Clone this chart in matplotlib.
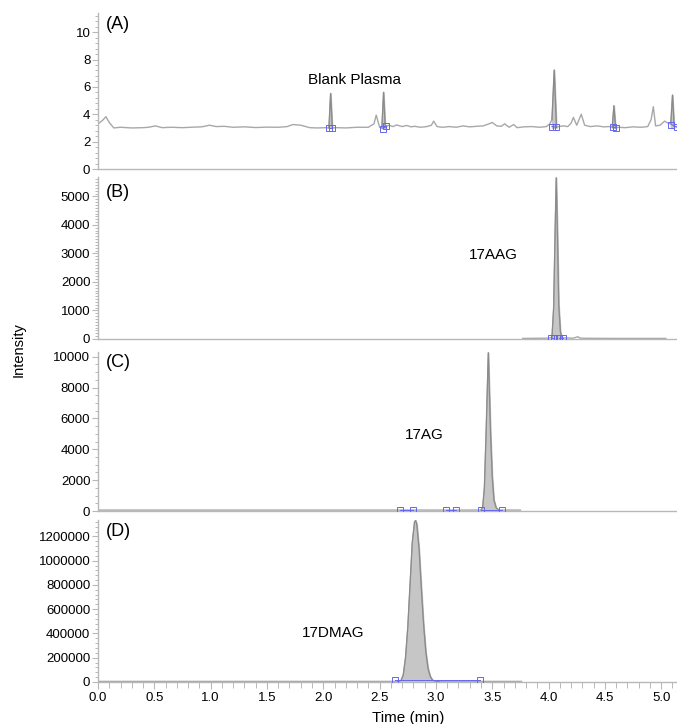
import matplotlib
matplotlib.use("Agg")
import matplotlib.pyplot as plt
from matplotlib.ticker import MultipleLocator, FixedLocator, FuncFormatter

plt.rcParams['font.family'] = ['Liberation Sans', 'DejaVu Sans']

# ---------------- data ----------------
# Panel A : blank plasma trace
a_time = [0.00, 0.04, 0.07, 0.10, 0.14, 0.20, 0.30, 0.40, 0.45, 0.51, 0.57, 0.65, 0.75, 0.85,
          0.92, 0.99, 1.05, 1.12, 1.20, 1.30, 1.40, 1.50, 1.60, 1.68, 1.73, 1.80, 1.88, 1.95,
          2.02, 2.050, 2.065, 2.080, 2.12, 2.20, 2.30, 2.40, 2.45, 2.47, 2.50, 2.52, 2.535,
          2.55, 2.58, 2.62, 2.65, 2.70, 2.74, 2.78, 2.81, 2.86, 2.92, 2.96, 2.98, 3.01, 3.06,
          3.12, 3.18, 3.24, 3.30, 3.36, 3.42, 3.47, 3.50, 3.54, 3.58, 3.61, 3.65, 3.69, 3.72,
          3.78, 3.85, 3.92, 3.98, 4.01, 4.03, 4.050, 4.07, 4.09, 4.13, 4.17, 4.20, 4.22, 4.25,
          4.27, 4.29, 4.32, 4.37, 4.43, 4.49, 4.54, 4.565, 4.580, 4.595, 4.62, 4.68, 4.75,
          4.82, 4.88, 4.91, 4.93, 4.95, 4.99, 5.03, 5.06, 5.085, 5.100, 5.115, 5.14]
a_int = [3.30, 3.55, 3.82, 3.40, 3.00, 3.05, 3.00, 3.02, 3.05, 3.15, 3.02, 3.05, 3.02, 3.06,
         3.08, 3.20, 3.10, 3.12, 3.05, 3.08, 3.03, 3.06, 3.05, 3.10, 3.25, 3.20, 3.02, 3.00,
         3.02, 3.00, 5.52, 3.00, 3.02, 3.00, 3.05, 3.05, 3.30, 3.94, 3.05, 3.00, 5.60,
         3.05, 3.20, 3.10, 3.22, 3.10, 3.18, 3.08, 3.12, 3.05, 3.10, 3.20, 3.50, 3.10, 3.05,
         3.10, 3.05, 3.15, 3.08, 3.12, 3.15, 3.30, 3.40, 3.15, 3.12, 3.30, 3.05, 3.25, 3.02,
         3.08, 3.10, 3.05, 3.10, 3.30, 3.60, 7.23, 3.05, 3.10, 3.15, 3.10, 3.35, 3.77, 3.20,
         3.60, 4.00, 3.20, 3.10, 3.15, 3.08, 3.10, 3.05, 4.62, 3.00, 3.05, 3.02, 3.08,
         3.05, 3.10, 3.60, 4.55, 3.15, 3.20, 3.50, 3.35, 3.30, 5.40, 3.10, 3.10]
a_fill_windows = [(2.050, 2.080), (2.52, 2.55), (4.03, 4.07), (4.565, 4.595), (5.085, 5.115)]
a_marks_t = [2.05, 2.08, 2.53, 2.56, 4.03, 4.07, 4.57, 4.60, 5.09, 5.14]
a_marks_y = [3.00, 3.00, 2.95, 3.15, 3.10, 3.05, 3.05, 3.00, 3.25, 3.05]

# Panel B : 17AAG
b_time = [3.77, 3.90, 4.00, 4.03, 4.045, 4.058, 4.068, 4.078, 4.09, 4.105, 4.12, 4.22, 4.26,
          4.28, 4.32, 4.60, 4.90, 5.04]
b_int = [20, 25, 30, 60, 1100, 3800, 5650, 3800, 1200, 250, 40, 30, 80, 30, 25, 20, 20, 20]
b_fill_window = (4.03, 4.12)
b_marks_t = [4.02, 4.05, 4.09, 4.13]
b_marks_y = [40, 40, 40, 40]

# Panel C : 17AG
c_time = [0.00, 1.00, 2.00, 3.00, 3.40, 3.415, 3.43, 3.445, 3.465, 3.485, 3.50, 3.515,
          3.535, 3.56, 3.65, 3.75]
c_int = [60, 60, 60, 60, 60, 250, 1500, 5000, 10250, 5000, 2200, 700, 200, 60, 60, 60]
c_fill_window = (3.40, 3.56)
c_marks_t = [2.68, 2.80, 3.09, 3.18, 3.40, 3.59]
c_marks_y = [80, 80, 80, 80, 80, 80]

# Panel D : 17DMAG
d_time = [0.00, 1.00, 2.00, 2.66, 2.69, 2.71, 2.73, 2.75, 2.77, 2.79, 2.81, 2.82, 2.83, 2.85,
          2.87, 2.89, 2.91, 2.93, 2.95, 2.97, 3.00, 3.03, 3.40, 3.76]
d_int = [5000, 5000, 5000, 5000, 12000, 60000, 200000, 450000, 800000, 1150000, 1320000,
         1330000, 1300000, 1100000, 780000, 480000, 250000, 110000, 45000, 15000, 6000,
         5000, 5000, 5000]
d_fill_window = (2.66, 3.03)
d_marks_t = [2.64, 3.39]
d_marks_y = [15000, 15000]

panel_letters = ['(A)', '(B)', '(C)', '(D)']
compound_names = ['Blank Plasma', '17AAG', '17AG', '17DMAG']
name_pos_t = [2.28, 3.51, 2.90, 2.09]
name_pos_y = [6.5, 2940, 4950, 400000]
y_limits = [11.4, 5680, 10300, 1335000]
y_major = [2, 1000, 2000, 200000]
y_minor = [0.4, 100, 500, 40000]
x_ticks = [0.0, 0.5, 1.0, 1.5, 2.0, 2.5, 3.0, 3.5, 4.0, 4.5, 5.0]

# ---------------- figure ----------------
W, H = 677, 724
fig = plt.figure(figsize=(W / 100, H / 100), dpi=100)

# axes boxes in pixels: (bottom, top)
boxes = [(169, 13), (339, 177), (511, 352), (682, 520)]
left_px, right_px = 98, 677

line_c = '#a8a8a8'
fill_c = '#c6c6c6'
edge_c = '#8a8a8a'
mark_c = '#6666ee'
spine_c = '#b8b8b8'

traces = [(a_time, a_int), (b_time, b_int), (c_time, c_int), (d_time, d_int)]
marks = [(a_marks_t, a_marks_y), (b_marks_t, b_marks_y), (c_marks_t, c_marks_y),
         (d_marks_t, d_marks_y)]
fills = [a_fill_windows, [b_fill_window], [c_fill_window], [d_fill_window]]

int_fmt = FuncFormatter(lambda v, p: f'{v:g}' if abs(v) < 100 else f'{int(round(v))}')

axes = []
for i, (bot, top) in enumerate(boxes):
    ax = fig.add_axes([left_px / W, 1 - bot / H, (right_px - left_px) / W, (bot - top) / H])
    axes.append(ax)
    t, y = traces[i]
    ax.plot(t, y, color=line_c, lw=1.0, zorder=2)
    base = y[0] if i > 0 else 3.0
    for (t0, t1) in fills[i]:
        tt = [tv for tv in t if t0 <= tv <= t1]
        yy = [yv for tv, yv in zip(t, y) if t0 <= tv <= t1]
        ax.fill_between(tt, base, yy, color=fill_c, zorder=1)
        ax.plot(tt, yy, color=edge_c, lw=0.8, zorder=3)
    mt, my = marks[i]
    # integration baselines between mark pairs
    for k in range(0, len(mt) - 1, 2):
        ax.plot([mt[k], mt[k + 1]], [my[k], my[k + 1]], color=mark_c, lw=0.7, zorder=4)
    ax.plot(mt, my, ls='none', marker='s', ms=4.5, mfc='none', mec=mark_c, mew=0.7, zorder=5)

    ax.set_xlim(0, 5.14)
    ax.set_ylim(0, y_limits[i])
    ax.yaxis.set_major_locator(MultipleLocator(y_major[i]))
    ax.yaxis.set_minor_locator(MultipleLocator(y_minor[i]))
    ax.yaxis.set_major_formatter(int_fmt)
    for s in ['top', 'right']:
        ax.spines[s].set_visible(False)
    ax.spines['left'].set_color(spine_c)
    ax.spines['bottom'].set_color(spine_c)
    ax.spines['left'].set_linewidth(1.0)
    ax.spines['bottom'].set_linewidth(1.0)
    ax.tick_params(axis='y', which='major', length=4, width=0.8, color=spine_c,
                   labelsize=9.5, pad=1.5, labelcolor='black')
    ax.tick_params(axis='y', which='minor', length=2.5, width=0.7, color=spine_c)
    ax.text(0.014, [0.925, 0.907, 0.937, 0.926][i], panel_letters[i], transform=ax.transAxes,
            fontsize=13, ha='left', va='center')
    ax.text(name_pos_t[i], name_pos_y[i], compound_names[i], fontsize=11, ha='center',
            va='center')
    ax.patch.set_alpha(0)
    if i < 3:
        ax.tick_params(axis='x', which='both', bottom=False, labelbottom=False)
    else:
        ax.xaxis.set_major_locator(FixedLocator(x_ticks))
        ax.xaxis.set_minor_locator(MultipleLocator(0.1))
        ax.set_xticklabels([f'{v:.1f}' for v in x_ticks])
        ax.tick_params(axis='x', which='major', length=5, width=0.8, color=spine_c,
                       labelsize=9.5, pad=2, labelcolor='black')
        ax.tick_params(axis='x', which='minor', length=4, width=0.7, color=spine_c)

fig.text(19 / W, 1 - 350 / H, 'Intensity', rotation=90, fontsize=10.5, ha='center',
         va='center')
fig.text(408 / W, 1 - 718 / H, 'Time (min)', fontsize=11, ha='center', va='center')

fig.savefig('out.png', dpi=100)
